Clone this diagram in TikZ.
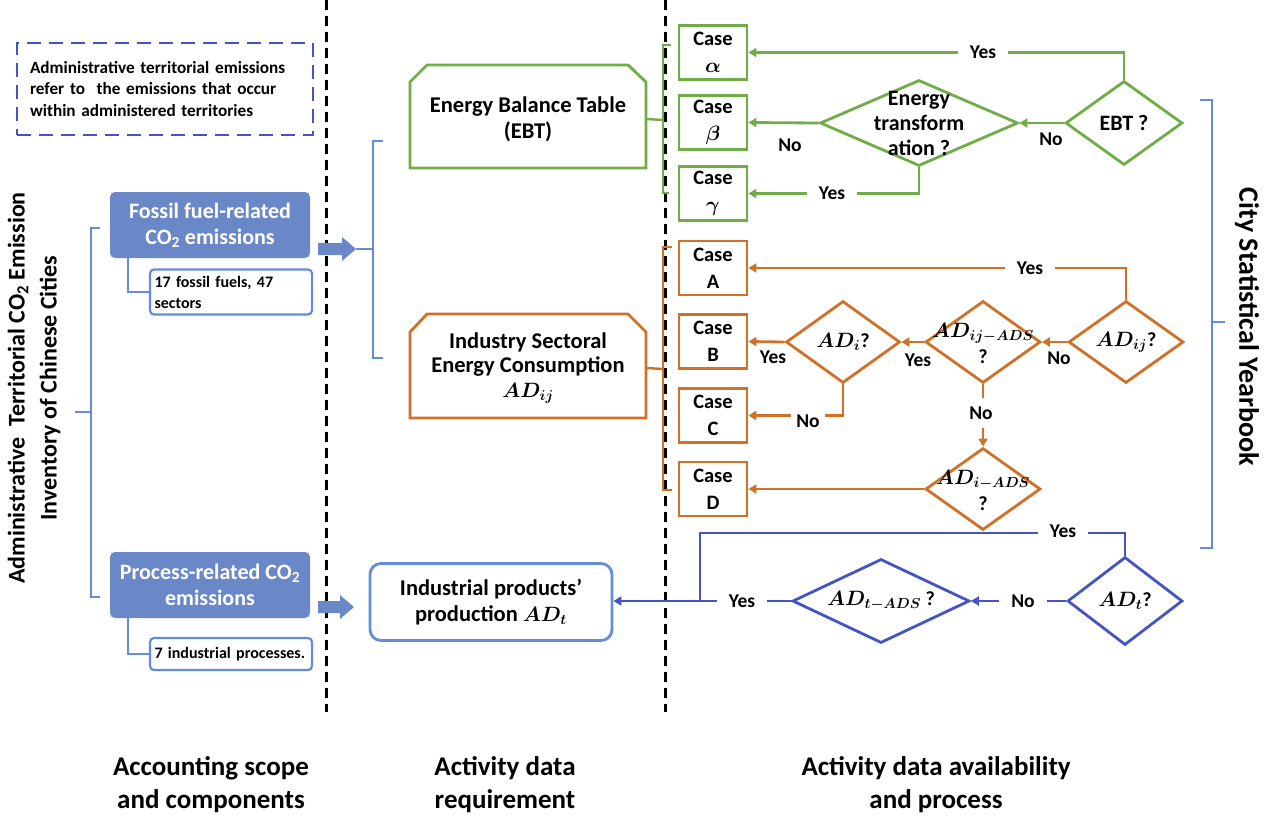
\documentclass[tikz,border=0pt]{standalone}
\usepackage{fontspec}
\setmainfont{Carlito}
\usepackage{amsmath}
\usetikzlibrary{arrows.meta,shapes.geometric}
\definecolor{gcol}{RGB}{112,173,71}
\definecolor{ocol}{RGB}{210,112,40}
\definecolor{dblue}{RGB}{68,84,196}
\definecolor{lblue}{RGB}{100,140,220}
\definecolor{fblue}{RGB}{106,136,200}
\tikzset{
 vdash/.style={black, line width=3pt, dash pattern=on 10pt off 6pt},
 casebox/.style={draw, line width=2.8pt, minimum width=68pt, minimum height=54pt, inner sep=0pt, font=\fontsize{20.5}{27}\selectfont\bfseries\boldmath, align=center},
 gcase/.style={casebox, draw=gcol},
 ocase/.style={casebox, draw=ocol},
 dia/.style={diamond, draw, line width=2.8pt, inner sep=0pt, minimum width=115pt, minimum height=86pt},
 dtext/.style={font=\fontsize{22}{25}\selectfont\bfseries, align=center, inner sep=0pt},
 mtext/.style={font=\fontsize{20}{26}\selectfont\bfseries\boldmath, align=center, inner sep=0pt},
 flow/.style={line width=2.8pt},
 tip/.style={-{Triangle[length=8pt,width=9pt]}},
 lbl/.style={font=\fontsize{19.5}{22}\selectfont\bfseries, inner sep=0pt},
 gap/.style={lbl, fill=white, inner xsep=12pt, inner ysep=4pt},
 fillbox/.style={fill=fblue, rounded corners=5pt, minimum width=200pt, minimum height=66pt, inner sep=0pt, text=white, align=center, font=\fontsize{22}{26}\selectfont\bfseries},
 subbox/.style={draw=lblue, line width=2.2pt, rounded corners=4pt, text width=153pt, inner xsep=4.5pt, inner ysep=0pt, align=left, font=\fontsize{16}{21}\selectfont\bfseries},
 bigtext/.style={font=\fontsize{22.5}{26}\selectfont\bfseries\boldmath, align=center, inner sep=0pt},
 head/.style={font=\fontsize{27}{33}\selectfont\bfseries, align=center, inner sep=0pt},
 brk/.style={line width=2.2pt, lblue},
}
\begin{document}
\begin{tikzpicture}[x=1pt,y=-1pt]
\useasboundingbox[fill=white] (0,0) rectangle (1266,817);

% separators
\coordinate (s1t) at (326,0); \coordinate (s1b) at (326,712);
\coordinate (s2t) at (665,0); \coordinate (s2b) at (665,712);
\draw[vdash] (s1t) -- (s1b);
\draw[vdash] (s2t) -- (s2b);

% left column
\node[draw=dblue, line width=2.4pt, dash pattern=on 14pt off 8pt, minimum width=296pt, minimum height=92pt, text width=270pt, inner sep=0pt, align=left, font=\fontsize{17.2}{21.5}\selectfont\bfseries] (defbox) at (165,89)
 {Administrative territorial emissions\\refer to\ \ the emissions that occur\\within administered territories};

\node[rotate=90, font=\fontsize{24}{32}\selectfont\bfseries, align=center, inner sep=0pt] (inv) at (34,388)
 {Administrative\ \ Territorial CO\textsubscript{2} Emission\\Inventory of Chinese Cities};

\node[fillbox] (fossil) at (210,225) {Fossil fuel-related\\CO\textsubscript{2} emissions};
\node[subbox, minimum height=45pt] (fsub) at (231,292) {17 fossil fuels, 47\\sectors};
\node[fillbox] (proc) at (210,585) {Process-related CO\textsubscript{2}\\emissions};
\node[subbox, minimum height=32pt] (psub) at (231,654) {7 industrial processes.};

\coordinate (lbt) at (100,228); \coordinate (lbb) at (100,597);
\coordinate (lbm) at (91,412); \coordinate (lbx) at (75,412);
\draw[brk] (lbt) -- (91,228) -- (91,597) -- (lbb);
\draw[brk] (lbx) -- (lbm);

\draw[brk] (fossil.south west) ++(18,0) |- (fsub.west);
\draw[brk] (proc.south west) ++(18,0) |- (psub.west);

% block arrows
\fill[fblue] (318,243) -- (342,243) -- (342,237) -- (356,249) -- (342,261) -- (342,255) -- (318,255) -- cycle;
\coordinate (farrow) at (356,249);
\fill[fblue] (318,601) -- (340,601) -- (340,595) -- (354,607) -- (340,619) -- (340,613) -- (318,613) -- cycle;
\coordinate (parrow) at (354,607);

% middle bracket
\coordinate (mbt) at (383,141); \coordinate (mbb) at (383,358); \coordinate (mbm) at (373,249);
\draw[brk] (mbt) -- (373,141) -- (373,358) -- (mbb);
\draw[brk] (farrow) -- (mbm);

% EBT box
\draw[gcol, line width=2.8pt] (410,82) -- (427,65) -- (628,65) -- (646,82) -- (646,168) -- (410,168) -- cycle;
\node[bigtext, minimum width=236pt, minimum height=103pt] (ebt) at (528,119) {Energy Balance Table\\(EBT)};

% Industry box
\draw[ocol, line width=2.8pt] (410,332) -- (427,314) -- (628,314) -- (646,332) -- (646,418) -- (410,418) -- cycle;
\node[bigtext, minimum width=236pt, minimum height=104pt, font=\fontsize{22.5}{24.5}\selectfont\bfseries\boldmath] (ind) at (528,368) {Industry Sectoral\\Energy Consumption\\$AD_{ij}$};

% Industrial products box
\node[draw=lblue, line width=2.8pt, rounded corners=11pt, minimum width=242pt, minimum height=77pt, bigtext] (prod) at (491,602) {Industrial products'\\production $AD_t$};

% green/orange brackets
\coordinate (gbt) at (671,45); \coordinate (gbb) at (669,193);
\draw[gcol, line width=2.4pt] (gbt) -- (663,45) -- (663,193) -- (gbb);
\draw[gcol, line width=2.4pt] (ebt.east) -- (663,120);
\coordinate (obt) at (672,247); \coordinate (obb) at (672,490);
\draw[ocol, line width=2.4pt] (obt) -- (663,247) -- (663,490) -- (obb);
\draw[ocol, line width=2.4pt] (ind.east) -- (663,369);

% green cases
\node[gcase] (cal) at (713,52.5) {Case\\$\alpha$};
\node[gcase] (cbe) at (713,122.5) {Case\\$\beta$};
\node[gcase] (cga) at (713,193.5) {Case\\$\gamma$};
% orange cases
\node[ocase] (ca) at (713,268) {Case\\A};
\node[ocase] (cb) at (713,341.5) {Case\\B};
\node[ocase] (cc) at (713,415.5) {Case\\C};
\node[ocase] (cd) at (713,489) {Case\\D};

% green diamonds
\node[dia, draw=gcol, minimum width=117pt, minimum height=84pt] (ebtq) at (1124,123) {};
\node[dtext] (ebtqt) at (ebtq) {EBT ?};
\node[dia, draw=gcol, minimum width=198pt, minimum height=86pt] (etq) at (919,123) {};
\node[dtext] (etqt) at (919,123) {Energy\\transform\\ation ?};

\draw[flow, gcol, tip] (ebtq.north) |- (cal.east);
\draw[flow, gcol, tip] (ebtq.west) -- (etq.east);
\draw[flow, gcol, tip] (etq.west) -- (cbe.east);
\draw[flow, gcol, tip] (etq.south) |- (cga.east);

\node[gap] (g1) at (983,52.5) {Yes};
\node[gap] (g2) at (832,193.5) {Yes};
\node[lbl] (g3) at (790,145) {No};
\node[lbl] (g4) at (1051,139) {No};

% orange diamonds
\node[dia, draw=ocol, minimum height=82pt] (adij) at (1126,342) {};
\node[mtext] (adijt) at (adij) {$AD_{ij}$?};
\node[dia, draw=ocol, minimum height=82pt] (adijads) at (983,342) {};
\node[mtext] (adijadst) at (983,343) {$AD_{ij-ADS}$\\?};
\node[dia, draw=ocol, minimum width=114pt, minimum height=82pt] (adi) at (843,342) {};
\node[mtext] (adit) at (adi) {$AD_{i}$?};
\node[dia, draw=ocol, minimum height=82pt] (adiads) at (983,489) {};
\node[mtext] (adiadst) at (983,490) {$AD_{i-ADS}$\\?};

\draw[flow, ocol, tip] (adij.north) |- (ca.east);
\draw[flow, ocol, tip] (adij.west) -- (adijads.east);
\draw[flow, ocol, tip] (adijads.west) -- (adi.east);
\draw[flow, ocol, tip] (adi.west) -- (cb.east);
\draw[flow, ocol, tip] (adi.south) |- (cc.east);
\draw[flow, ocol, tip] (adijads.south) -- (adiads.north);
\draw[flow, ocol, tip] (adiads.west) -- (cd.east);

\node[gap] (o1) at (1030,268) {Yes};
\node[lbl] (o2) at (1059,358) {No};
\node[lbl] (o3) at (918,360) {Yes};
\node[lbl] (o4) at (773,357) {Yes};
\node[gap, inner xsep=5pt, inner ysep=2pt] (o5) at (808,421) {No};
\node[gap, inner xsep=4pt, inner ysep=9pt] (o6) at (981,413) {No};

% blue diamonds
\node[dia, draw=dblue, minimum height=88pt] (adt) at (1125,601) {};
\node[mtext] (adtt) at (adt) {$AD_{t}$?};
\node[dia, draw=dblue, minimum width=177pt, minimum height=84pt] (adtads) at (881,601) {};
\node[mtext] (adtadst) at (adtads) {$AD_{t-ADS}$ ?};

\coordinate (btop) at (700,533);
\coordinate (bjn) at (700,601);
\draw[flow, dblue] (adt.north) |- (btop) -- (bjn);
\draw[flow, dblue, tip] (adt.west) -- (adtads.east);
\draw[flow, dblue, tip] (adtads.west) -- (adtads.west -| prod.east);

\node[gap] (b1) at (1063,531) {Yes};
\node[gap] (b2) at (1023,601) {No};
\node[gap] (b3) at (742,601) {Yes};

% right bracket
\coordinate (rbt) at (1200,100); \coordinate (rbb) at (1200,548); \coordinate (rbm) at (1225,322);
\draw[brk] (rbt) -- (1212,100) -- (1212,548) -- (rbb);
\draw[brk] (1212,322) -- (rbm);
\node[rotate=-90, font=\fontsize{28}{30}\selectfont\bfseries, inner sep=0pt] (csy) at (1247,327) {City Statistical Yearbook};

% bottom headings
\node[head] (h1) at (211,785) {Accounting scope\\and components};
\node[head] (h2) at (505,785) {Activity data\\requirement};
\node[head] (h3) at (936,785) {Activity data availability\\and process};
\end{tikzpicture}
\end{document}
